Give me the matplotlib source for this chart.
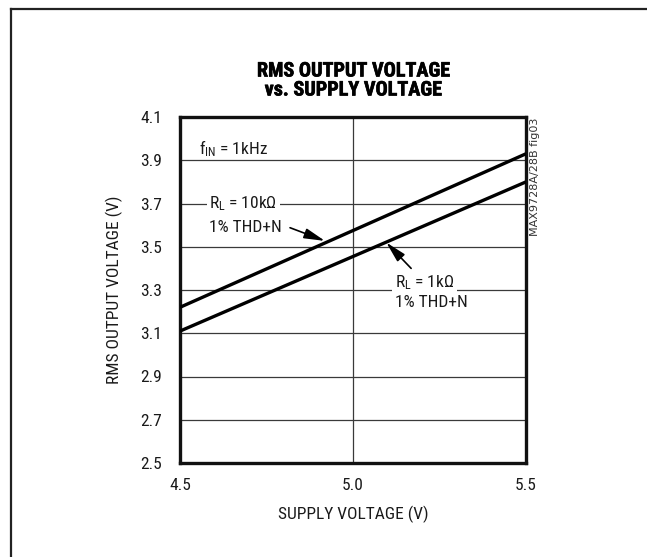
import matplotlib
matplotlib.use("Agg")
import matplotlib.pyplot as plt
from matplotlib.lines import Line2D
import matplotlib.patheffects as pe

FONT = ['Roboto Condensed', 'DejaVu Sans']
plt.rcParams['font.family'] = FONT
plt.rcParams['mathtext.fontset'] = 'custom'
plt.rcParams['mathtext.rm'] = 'Roboto Condensed'
plt.rcParams['mathtext.it'] = 'Roboto Condensed'

# Data
supply_v = [4.5, 5.5]
rms_10k = [3.22, 3.93]
rms_1k = [3.11, 3.80]
xticks = [4.5, 5.0, 5.5]
yticks = [2.5, 2.7, 2.9, 3.1, 3.3, 3.5, 3.7, 3.9, 4.1]

TXT = '#1a1a1a'
W, H = 647, 557
fig = plt.figure(figsize=(W / 100, H / 100), dpi=100)
ax = fig.add_axes([180 / W, 1 - 463 / H, 346 / W, (463 - 117) / H])

ax.set_xlim(4.5, 5.5)
ax.set_ylim(2.5, 4.1)
ax.set_xticks(xticks)
ax.set_xticklabels([f"{v:.1f}" for v in xticks])
ax.set_yticks(yticks)
ax.set_yticklabels([f"{v:.1f}" for v in yticks])
ax.tick_params(length=0, labelsize=12.5, colors=TXT)
ax.tick_params(axis='x', pad=11)
ax.tick_params(axis='y', pad=13)
ax.grid(True, color='#3a3a3a', lw=0.9)
ax.set_axisbelow(True)
for s in ax.spines.values():
    s.set_linewidth(2.4)
    s.set_color('#111111')

ax.plot(supply_v, rms_10k, color='black', lw=2.4, solid_capstyle='butt', zorder=3)
ax.plot(supply_v, rms_1k, color='black', lw=2.4, solid_capstyle='butt', zorder=3)

ax.set_xlabel('SUPPLY VOLTAGE (V)', fontsize=12.5, labelpad=9, color=TXT)
ax.set_ylabel('RMS OUTPUT VOLTAGE (V)', fontsize=12.5, labelpad=12, color=TXT)

thick = [pe.withStroke(linewidth=0.45, foreground='black')]
fig.text(353 / W, 1 - 71 / H, 'RMS OUTPUT VOLTAGE', ha='center', va='center',
         fontsize=14.5, fontweight='bold', family=FONT, path_effects=thick)
fig.text(353 / W, 1 - 90 / H, 'vs. SUPPLY VOLTAGE', ha='center', va='center',
         fontsize=14.5, fontweight='bold', family=FONT, path_effects=thick)

ax.text(4.555, 3.955, r'f$_\mathregular{IN}$ = 1kHz', fontsize=12.5, va='center', ha='left', color=TXT)

bbox = dict(facecolor='white', edgecolor='none', pad=2)
astyle = dict(arrowstyle='-|>,head_length=0.9,head_width=0.22', color='black', lw=1.2,
              mutation_scale=14, shrinkA=0, shrinkB=0)
ax.text(4.585, 3.70, r'R$_\mathregular{L}$ = 10k$\mathregular{\Omega}$', fontsize=12.5,
        va='center', ha='left', bbox=bbox, zorder=4, color=TXT)
ax.text(4.585, 3.59, '1% THD+N', fontsize=12.5, va='center', ha='left', color=TXT)
ax.annotate('', xy=(4.919, 3.527), xytext=(4.818, 3.588), arrowprops=astyle)

ax.text(5.12, 3.335, r'R$_\mathregular{L}$ = 1k$\mathregular{\Omega}$', fontsize=12.5,
        va='center', ha='left', bbox=bbox, zorder=4, color=TXT)
ax.text(5.12, 3.244, '1% THD+N', fontsize=12.5, va='center', ha='left', color=TXT)
ax.annotate('', xy=(5.096, 3.52), xytext=(5.168, 3.40), arrowprops=astyle)

fig.text(535 / W, 1 - 118 / H, 'MAX9728A/28B fig03', rotation=90, ha='center', va='top',
         fontsize=8, color='#333333', family=['DejaVu Sans'])

# outer frame
fig.add_artist(Line2D([11 / W, 11 / W], [0, 1 - 9 / H], color='#222222', lw=1.6,
                      transform=fig.transFigure))
fig.add_artist(Line2D([11 / W, 1], [1 - 9 / H, 1 - 9 / H], color='#222222', lw=1.6,
                      transform=fig.transFigure))

fig.savefig('out.png', dpi=100, facecolor='white')
